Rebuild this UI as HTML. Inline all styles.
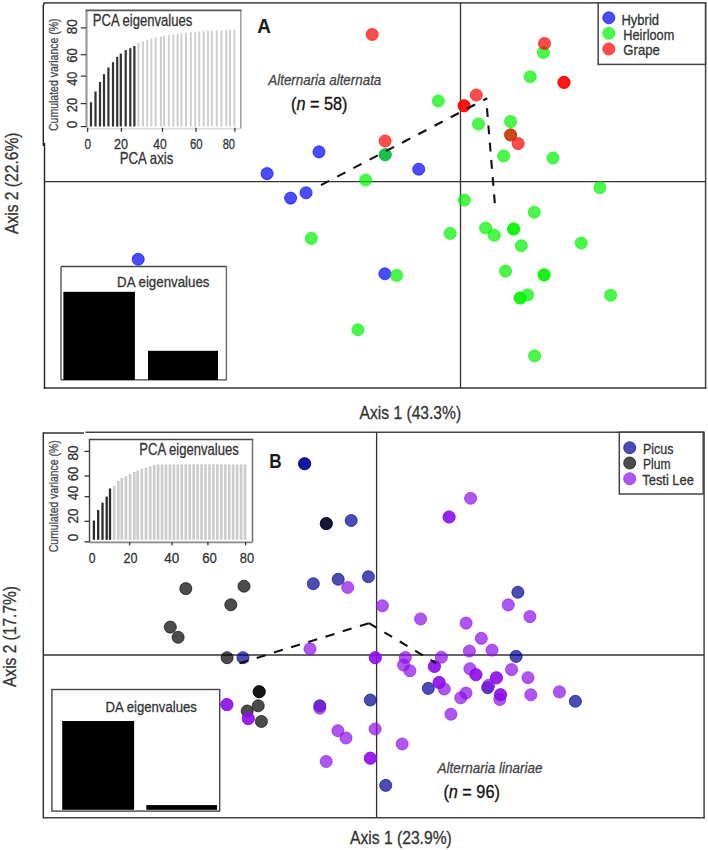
<!DOCTYPE html>
<html><head><meta charset="utf-8"><style>
html,body{margin:0;padding:0;background:#fff;overflow:hidden;}
svg{display:block;font-family:"Liberation Sans", sans-serif;}
</style></head><body>
<svg width="708" height="850" viewBox="0 0 708 850">
<rect width="708" height="850" fill="#fff"/>
<line x1="43.5" y1="2.8" x2="706.3" y2="2.8" stroke="#5a5a5a" stroke-width="1.7" />
<line x1="705.6" y1="2.8" x2="705.6" y2="388.8" stroke="#444" stroke-width="1.5" />
<line x1="43.7" y1="388.1" x2="706.3" y2="388.1" stroke="#333" stroke-width="1.5" />
<line x1="43.3" y1="5" x2="43.3" y2="146" stroke="#222" stroke-width="1.4" />
<line x1="44.5" y1="143" x2="44.5" y2="388.8" stroke="#222" stroke-width="1.4" />
<line x1="43.3" y1="6" x2="44.3" y2="2.8" stroke="#222" stroke-width="1.4" />
<line x1="460.5" y1="2.9" x2="460.5" y2="388" stroke="#333" stroke-width="1.3" />
<line x1="44.3" y1="181.6" x2="705.6" y2="181.6" stroke="#333" stroke-width="1.3" />
<circle cx="138.2" cy="259.3" r="6.05" fill="#0000ff" fill-opacity="0.7" stroke="#0000ff" stroke-opacity="0.7" stroke-width="0.9"/>
<circle cx="267.1" cy="173.6" r="6.05" fill="#0000ff" fill-opacity="0.7" stroke="#0000ff" stroke-opacity="0.7" stroke-width="0.9"/>
<circle cx="319" cy="151.9" r="6.05" fill="#0000ff" fill-opacity="0.7" stroke="#0000ff" stroke-opacity="0.7" stroke-width="0.9"/>
<circle cx="418.7" cy="169.2" r="6.05" fill="#0000ff" fill-opacity="0.7" stroke="#0000ff" stroke-opacity="0.7" stroke-width="0.9"/>
<circle cx="290.6" cy="198.1" r="6.05" fill="#0000ff" fill-opacity="0.7" stroke="#0000ff" stroke-opacity="0.7" stroke-width="0.9"/>
<circle cx="306.1" cy="192.8" r="6.05" fill="#0000ff" fill-opacity="0.7" stroke="#0000ff" stroke-opacity="0.7" stroke-width="0.9"/>
<circle cx="384.9" cy="273.8" r="6.05" fill="#0000ff" fill-opacity="0.7" stroke="#0000ff" stroke-opacity="0.7" stroke-width="0.9"/>
<circle cx="385.2" cy="154.7" r="6.05" fill="#0000ff" fill-opacity="0.7" stroke="#0000ff" stroke-opacity="0.7" stroke-width="0.9"/>
<circle cx="438.3" cy="101" r="6.05" fill="#00f400" fill-opacity="0.7" stroke="#00f400" stroke-opacity="0.7" stroke-width="0.9"/>
<circle cx="530.2" cy="76.8" r="6.05" fill="#00f400" fill-opacity="0.7" stroke="#00f400" stroke-opacity="0.7" stroke-width="0.9"/>
<circle cx="543.4" cy="52.5" r="6.05" fill="#00f400" fill-opacity="0.7" stroke="#00f400" stroke-opacity="0.7" stroke-width="0.9"/>
<circle cx="510.6" cy="121.6" r="6.05" fill="#00f400" fill-opacity="0.7" stroke="#00f400" stroke-opacity="0.7" stroke-width="0.9"/>
<circle cx="478.5" cy="124" r="6.05" fill="#00f400" fill-opacity="0.7" stroke="#00f400" stroke-opacity="0.7" stroke-width="0.9"/>
<circle cx="503.6" cy="156" r="6.05" fill="#00f400" fill-opacity="0.7" stroke="#00f400" stroke-opacity="0.7" stroke-width="0.9"/>
<circle cx="553" cy="158" r="6.05" fill="#00f400" fill-opacity="0.7" stroke="#00f400" stroke-opacity="0.7" stroke-width="0.9"/>
<circle cx="599.9" cy="187.6" r="6.05" fill="#00f400" fill-opacity="0.7" stroke="#00f400" stroke-opacity="0.7" stroke-width="0.9"/>
<circle cx="464.4" cy="200.1" r="6.05" fill="#00f400" fill-opacity="0.7" stroke="#00f400" stroke-opacity="0.7" stroke-width="0.9"/>
<circle cx="365.7" cy="180" r="6.05" fill="#00f400" fill-opacity="0.7" stroke="#00f400" stroke-opacity="0.7" stroke-width="0.9"/>
<circle cx="311.3" cy="238.4" r="6.05" fill="#00f400" fill-opacity="0.7" stroke="#00f400" stroke-opacity="0.7" stroke-width="0.9"/>
<circle cx="396.7" cy="275.4" r="6.05" fill="#00f400" fill-opacity="0.7" stroke="#00f400" stroke-opacity="0.7" stroke-width="0.9"/>
<circle cx="357.9" cy="329.8" r="6.05" fill="#00f400" fill-opacity="0.7" stroke="#00f400" stroke-opacity="0.7" stroke-width="0.9"/>
<circle cx="450.2" cy="233.4" r="6.05" fill="#00f400" fill-opacity="0.7" stroke="#00f400" stroke-opacity="0.7" stroke-width="0.9"/>
<circle cx="534.3" cy="212.2" r="6.05" fill="#00f400" fill-opacity="0.7" stroke="#00f400" stroke-opacity="0.7" stroke-width="0.9"/>
<circle cx="485.6" cy="228" r="6.05" fill="#00f400" fill-opacity="0.7" stroke="#00f400" stroke-opacity="0.7" stroke-width="0.9"/>
<circle cx="494.3" cy="235.3" r="6.05" fill="#00f400" fill-opacity="0.7" stroke="#00f400" stroke-opacity="0.7" stroke-width="0.9"/>
<circle cx="513.6" cy="229" r="6.05" fill="#00f400" fill-opacity="0.7" stroke="#00f400" stroke-opacity="0.7" stroke-width="0.9"/>
<circle cx="513.6" cy="229" r="6.05" fill="#00f400" fill-opacity="0.7" stroke="#00f400" stroke-opacity="0.7" stroke-width="0.9"/>
<circle cx="521.3" cy="245.8" r="6.05" fill="#00f400" fill-opacity="0.7" stroke="#00f400" stroke-opacity="0.7" stroke-width="0.9"/>
<circle cx="581.2" cy="243" r="6.05" fill="#00f400" fill-opacity="0.7" stroke="#00f400" stroke-opacity="0.7" stroke-width="0.9"/>
<circle cx="505.5" cy="271.1" r="6.05" fill="#00f400" fill-opacity="0.7" stroke="#00f400" stroke-opacity="0.7" stroke-width="0.9"/>
<circle cx="544.1" cy="274.9" r="6.05" fill="#00f400" fill-opacity="0.7" stroke="#00f400" stroke-opacity="0.7" stroke-width="0.9"/>
<circle cx="544.1" cy="274.9" r="6.05" fill="#00f400" fill-opacity="0.7" stroke="#00f400" stroke-opacity="0.7" stroke-width="0.9"/>
<circle cx="527.6" cy="294.9" r="6.05" fill="#00f400" fill-opacity="0.7" stroke="#00f400" stroke-opacity="0.7" stroke-width="0.9"/>
<circle cx="520.2" cy="298" r="6.05" fill="#00f400" fill-opacity="0.7" stroke="#00f400" stroke-opacity="0.7" stroke-width="0.9"/>
<circle cx="520.2" cy="298" r="6.05" fill="#00f400" fill-opacity="0.7" stroke="#00f400" stroke-opacity="0.7" stroke-width="0.9"/>
<circle cx="610.6" cy="295.2" r="6.05" fill="#00f400" fill-opacity="0.7" stroke="#00f400" stroke-opacity="0.7" stroke-width="0.9"/>
<circle cx="534.6" cy="355.9" r="6.05" fill="#00f400" fill-opacity="0.7" stroke="#00f400" stroke-opacity="0.7" stroke-width="0.9"/>
<circle cx="385.2" cy="154.7" r="6.05" fill="#00f400" fill-opacity="0.7" stroke="#00f400" stroke-opacity="0.7" stroke-width="0.9"/>
<circle cx="510.6" cy="134.9" r="6.05" fill="#00f400" fill-opacity="0.7" stroke="#00f400" stroke-opacity="0.7" stroke-width="0.9"/>
<circle cx="372.2" cy="34.5" r="6.05" fill="#ff0000" fill-opacity="0.7" stroke="#ff0000" stroke-opacity="0.7" stroke-width="0.9"/>
<circle cx="544.5" cy="43.5" r="6.05" fill="#ff0000" fill-opacity="0.7" stroke="#ff0000" stroke-opacity="0.7" stroke-width="0.9"/>
<circle cx="564" cy="82.4" r="6.05" fill="#ff0000" fill-opacity="0.7" stroke="#ff0000" stroke-opacity="0.7" stroke-width="0.9"/>
<circle cx="564" cy="82.4" r="6.05" fill="#ff0000" fill-opacity="0.7" stroke="#ff0000" stroke-opacity="0.7" stroke-width="0.9"/>
<circle cx="476.3" cy="95" r="6.05" fill="#ff0000" fill-opacity="0.7" stroke="#ff0000" stroke-opacity="0.7" stroke-width="0.9"/>
<circle cx="464.1" cy="105.8" r="6.05" fill="#ff0000" fill-opacity="0.7" stroke="#ff0000" stroke-opacity="0.7" stroke-width="0.9"/>
<circle cx="464.1" cy="105.8" r="6.05" fill="#ff0000" fill-opacity="0.7" stroke="#ff0000" stroke-opacity="0.7" stroke-width="0.9"/>
<circle cx="385.1" cy="141" r="6.05" fill="#ff0000" fill-opacity="0.7" stroke="#ff0000" stroke-opacity="0.7" stroke-width="0.9"/>
<circle cx="510.6" cy="134.9" r="6.05" fill="#ff0000" fill-opacity="0.7" stroke="#ff0000" stroke-opacity="0.7" stroke-width="0.9"/>
<circle cx="518.2" cy="143.6" r="6.05" fill="#ff0000" fill-opacity="0.7" stroke="#ff0000" stroke-opacity="0.7" stroke-width="0.9"/>
<line x1="321" y1="185.1" x2="487.2" y2="98.2" stroke="#111" stroke-width="2.1" stroke-dasharray="9.2 9.1"/>
<line x1="494.8" y1="203.2" x2="486.2" y2="99" stroke="#111" stroke-width="2.1" stroke-dasharray="8.8 8.5"/>
<rect x="598.2" y="2.9" width="107.3" height="61.5" fill="#fff" stroke="#444" stroke-width="1.5"/>
<circle cx="608.8" cy="17.8" r="6.05" fill="#0000ff" fill-opacity="0.7" stroke="#0000ff" stroke-opacity="0.7" stroke-width="0.9"/>
<circle cx="608.8" cy="33.3" r="6.05" fill="#00f400" fill-opacity="0.7" stroke="#00f400" stroke-opacity="0.7" stroke-width="0.9"/>
<circle cx="608.8" cy="49" r="6.05" fill="#ff0000" fill-opacity="0.7" stroke="#ff0000" stroke-opacity="0.7" stroke-width="0.9"/>
<text x="621.5" y="24.5" font-size="14.8" fill="#333" text-anchor="start" stroke="#333" stroke-width="0.3" textLength="37.5" lengthAdjust="spacingAndGlyphs" >Hybrid</text>
<text x="623.3" y="39.5" font-size="14.8" fill="#333" text-anchor="start" stroke="#333" stroke-width="0.3" textLength="51" lengthAdjust="spacingAndGlyphs" >Heirloom</text>
<text x="623.3" y="55.2" font-size="14.8" fill="#333" text-anchor="start" stroke="#333" stroke-width="0.3" textLength="36.5" lengthAdjust="spacingAndGlyphs" >Grape</text>
<text x="257.2" y="33.4" font-size="20" fill="#1a1a1a" text-anchor="start" textLength="13.6" lengthAdjust="spacingAndGlyphs" font-weight="bold" >A</text>
<text x="268.3" y="84.7" font-size="15" fill="#444" text-anchor="start" stroke="#444" stroke-width="0.3" textLength="113" lengthAdjust="spacingAndGlyphs" font-style="italic" >Alternaria alternata</text>
<text x="291" y="109.6" font-size="17.5" fill="#111" text-anchor="start" stroke="#111" stroke-width="0.3" textLength="56.5" lengthAdjust="spacingAndGlyphs" >(<tspan font-style="italic">n</tspan> = 58)</text>
<rect x="86.4" y="10.3" width="154.3" height="118" fill="#fff" stroke="none" stroke-width="1.3"/>
<line x1="86.5" y1="10.3" x2="86.5" y2="127.5" stroke="#9a9a9a" stroke-width="2.2" />
<line x1="240.8" y1="10.3" x2="240.8" y2="128.5" stroke="#a0a0a0" stroke-width="1.6" />
<line x1="85.6" y1="10.4" x2="241.4" y2="10.4" stroke="#555" stroke-width="1.6" />
<line x1="86.4" y1="128.9" x2="240.7" y2="128.9" stroke="#c8c8c8" stroke-width="1.0" />
<rect x="89.9" y="102.3" width="2.2" height="24.200000000000003" fill="#333" stroke="none" stroke-width="1.3"/>
<rect x="94.4" y="91.5" width="2.2" height="35.0" fill="#333" stroke="none" stroke-width="1.3"/>
<rect x="98.9" y="82" width="2.2" height="44.5" fill="#333" stroke="none" stroke-width="1.3"/>
<rect x="102.9" y="74.1" width="2.2" height="52.400000000000006" fill="#333" stroke="none" stroke-width="1.3"/>
<rect x="107.30000000000001" y="67.4" width="2.2" height="59.099999999999994" fill="#333" stroke="none" stroke-width="1.3"/>
<rect x="111.9" y="62.2" width="2.2" height="64.3" fill="#333" stroke="none" stroke-width="1.3"/>
<rect x="116.10000000000001" y="56.8" width="2.2" height="69.7" fill="#333" stroke="none" stroke-width="1.3"/>
<rect x="119.7" y="53.6" width="2.2" height="72.9" fill="#333" stroke="none" stroke-width="1.3"/>
<rect x="124.60000000000001" y="50.1" width="2.2" height="76.4" fill="#333" stroke="none" stroke-width="1.3"/>
<rect x="129.20000000000002" y="48.2" width="2.2" height="78.3" fill="#333" stroke="none" stroke-width="1.3"/>
<rect x="133.3" y="46" width="2.2" height="80.5" fill="#333" stroke="none" stroke-width="1.3"/>
<rect x="137.4" y="42.7" width="2.0" height="83.8" fill="#cfcfcf" stroke="none" stroke-width="1.3"/>
<rect x="141.9" y="41.20671829876405" width="2.0" height="85.29328170123594" fill="#cfcfcf" stroke="none" stroke-width="1.3"/>
<rect x="146.2" y="39.870471121418674" width="2.0" height="86.62952887858133" fill="#cfcfcf" stroke="none" stroke-width="1.3"/>
<rect x="150.3" y="38.67474461014781" width="2.0" height="87.82525538985219" fill="#cfcfcf" stroke="none" stroke-width="1.3"/>
<rect x="154.7" y="37.604761515705356" width="2.0" height="88.89523848429465" fill="#cfcfcf" stroke="none" stroke-width="1.3"/>
<rect x="159.9" y="36.64729857447155" width="2.0" height="89.85270142552845" fill="#cfcfcf" stroke="none" stroke-width="1.3"/>
<rect x="163.0" y="35.79052309026281" width="2.0" height="90.70947690973719" fill="#cfcfcf" stroke="none" stroke-width="1.3"/>
<rect x="167.8" y="35.02384670131016" width="2.0" height="91.47615329868984" fill="#cfcfcf" stroke="none" stroke-width="1.3"/>
<rect x="172.3" y="34.337794525202064" width="2.0" height="92.16220547479793" fill="#cfcfcf" stroke="none" stroke-width="1.3"/>
<rect x="176.6" y="33.72388806463448" width="2.0" height="92.77611193536552" fill="#cfcfcf" stroke="none" stroke-width="1.3"/>
<rect x="180.4" y="33.17454042687226" width="2.0" height="93.32545957312774" fill="#cfcfcf" stroke="none" stroke-width="1.3"/>
<rect x="185.0" y="32.682962562003524" width="2.0" height="93.81703743799648" fill="#cfcfcf" stroke="none" stroke-width="1.3"/>
<rect x="189.8" y="32.24307936124332" width="2.0" height="94.25692063875668" fill="#cfcfcf" stroke="none" stroke-width="1.3"/>
<rect x="194.2" y="31.84945457839694" width="2.0" height="94.65054542160306" fill="#cfcfcf" stroke="none" stroke-width="1.3"/>
<rect x="198.2" y="31.497223646633483" width="2.0" height="95.00277635336651" fill="#cfcfcf" stroke="none" stroke-width="1.3"/>
<rect x="202.6" y="31.182033560293377" width="2.0" height="95.31796643970662" fill="#cfcfcf" stroke="none" stroke-width="1.3"/>
<rect x="207.0" y="30.89998907876614" width="2.0" height="95.60001092123386" fill="#cfcfcf" stroke="none" stroke-width="1.3"/>
<rect x="210.8" y="30.64760458760504" width="2.0" height="95.85239541239496" fill="#cfcfcf" stroke="none" stroke-width="1.3"/>
<rect x="215.8" y="30.421761021959902" width="2.0" height="96.0782389780401" fill="#cfcfcf" stroke="none" stroke-width="1.3"/>
<rect x="220.5" y="30.219667319971084" width="2.0" height="96.28033268002892" fill="#cfcfcf" stroke="none" stroke-width="1.3"/>
<rect x="225.3" y="30.03882592975092" width="2.0" height="96.46117407024909" fill="#cfcfcf" stroke="none" stroke-width="1.3"/>
<rect x="229.0" y="29.877001943674554" width="2.0" height="96.62299805632544" fill="#cfcfcf" stroke="none" stroke-width="1.3"/>
<rect x="233.4" y="29.732195478529796" width="2.0" height="96.7678045214702" fill="#cfcfcf" stroke="none" stroke-width="1.3"/>
<line x1="87.6" y1="127.8" x2="87.6" y2="131.8" stroke="#333" stroke-width="1.3" />
<line x1="121.4" y1="127.8" x2="121.4" y2="131.8" stroke="#333" stroke-width="1.3" />
<line x1="162.5" y1="127.8" x2="162.5" y2="131.8" stroke="#333" stroke-width="1.3" />
<line x1="196" y1="127.8" x2="196" y2="131.8" stroke="#333" stroke-width="1.3" />
<line x1="234.9" y1="127.8" x2="234.9" y2="131.8" stroke="#333" stroke-width="1.3" />
<line x1="80.7" y1="27.9" x2="86.4" y2="27.9" stroke="#333" stroke-width="1.2" />
<line x1="80.7" y1="54.7" x2="86.4" y2="54.7" stroke="#333" stroke-width="1.2" />
<line x1="80.7" y1="76.1" x2="86.4" y2="76.1" stroke="#333" stroke-width="1.2" />
<line x1="80.7" y1="103.6" x2="86.4" y2="103.6" stroke="#333" stroke-width="1.2" />
<line x1="80.7" y1="126.6" x2="86.4" y2="126.6" stroke="#333" stroke-width="1.2" />
<text x="87.7" y="149.3" font-size="15.5" fill="#333" text-anchor="middle" stroke="#333" stroke-width="0.3" textLength="6.6" lengthAdjust="spacingAndGlyphs" >0</text>
<text x="120.9" y="149.3" font-size="15.5" fill="#333" text-anchor="middle" stroke="#333" stroke-width="0.3" textLength="14" lengthAdjust="spacingAndGlyphs" >20</text>
<text x="160.1" y="149.3" font-size="15.5" fill="#333" text-anchor="middle" stroke="#333" stroke-width="0.3" textLength="13.5" lengthAdjust="spacingAndGlyphs" >40</text>
<text x="196.3" y="149.3" font-size="15.5" fill="#333" text-anchor="middle" stroke="#333" stroke-width="0.3" textLength="12.6" lengthAdjust="spacingAndGlyphs" >60</text>
<text x="228.8" y="149.3" font-size="15.5" fill="#333" text-anchor="middle" stroke="#333" stroke-width="0.3" textLength="12.3" lengthAdjust="spacingAndGlyphs" >80</text>
<text x="146.5" y="163.6" font-size="17" fill="#333" text-anchor="middle" stroke="#333" stroke-width="0.3" textLength="53.5" lengthAdjust="spacingAndGlyphs" >PCA axis</text>
<text transform="translate(77.2,26.8) rotate(-90)" x="0" y="0" font-size="15.5" fill="#333" text-anchor="middle" stroke="#333" stroke-width="0.3" textLength="15" lengthAdjust="spacingAndGlyphs" >80</text>
<text transform="translate(77.2,55.5) rotate(-90)" x="0" y="0" font-size="15.5" fill="#333" text-anchor="middle" stroke="#333" stroke-width="0.3" textLength="14.5" lengthAdjust="spacingAndGlyphs" >60</text>
<text transform="translate(77.2,78.8) rotate(-90)" x="0" y="0" font-size="15.5" fill="#333" text-anchor="middle" stroke="#333" stroke-width="0.3" textLength="14" lengthAdjust="spacingAndGlyphs" >40</text>
<text transform="translate(77.2,105) rotate(-90)" x="0" y="0" font-size="15.5" fill="#333" text-anchor="middle" stroke="#333" stroke-width="0.3" textLength="14.5" lengthAdjust="spacingAndGlyphs" >20</text>
<text transform="translate(77.2,124.6) rotate(-90)" x="0" y="0" font-size="15.5" fill="#333" text-anchor="middle" stroke="#333" stroke-width="0.3" textLength="7.5" lengthAdjust="spacingAndGlyphs" >0</text>
<text transform="translate(58.4,74.7) rotate(-90)" x="0" y="0" font-size="12.6" fill="#4a4a4a" text-anchor="middle" stroke="#4a4a4a" stroke-width="0.3" textLength="112.5" lengthAdjust="spacingAndGlyphs" >Cumulated variance (%)</text>
<text x="92.8" y="25.5" font-size="16.2" fill="#333" text-anchor="start" stroke="#333" stroke-width="0.3" textLength="99.5" lengthAdjust="spacingAndGlyphs" >PCA eigenvalues</text>
<rect x="61" y="266.4" width="165.4" height="113.5" fill="#fff" stroke="none" stroke-width="1.3"/>
<line x1="61" y1="266.4" x2="226.4" y2="266.4" stroke="#444" stroke-width="1.5" />
<line x1="61" y1="266.4" x2="61" y2="380" stroke="#555" stroke-width="1.4" />
<line x1="226.4" y1="266.4" x2="226.4" y2="380" stroke="#666" stroke-width="1.4" />
<line x1="61" y1="379.9" x2="226.4" y2="379.9" stroke="#444" stroke-width="1.4" />
<rect x="63.4" y="291.8" width="71.5" height="88.2" fill="#000" stroke="none" stroke-width="1.3"/>
<rect x="148" y="350.8" width="70" height="29.2" fill="#000" stroke="none" stroke-width="1.3"/>
<text x="117.1" y="287.3" font-size="15" fill="#333" text-anchor="start" stroke="#333" stroke-width="0.3" textLength="92.4" lengthAdjust="spacingAndGlyphs" >DA eigenvalues</text>
<text x="359.6" y="419.3" font-size="18.8" fill="#333" text-anchor="start" stroke="#333" stroke-width="0.3" textLength="101.5" lengthAdjust="spacingAndGlyphs" >Axis 1 (43.3%)</text>
<text transform="translate(18.4,234) rotate(-90)" x="0" y="0" font-size="18.8" fill="#333" text-anchor="start" stroke="#333" stroke-width="0.3" textLength="101.5" lengthAdjust="spacingAndGlyphs" >Axis 2 (22.6%)</text>
<line x1="43.3" y1="433" x2="84" y2="433" stroke="#333" stroke-width="1.5" />
<line x1="85.5" y1="432.3" x2="704.8" y2="432.3" stroke="#444" stroke-width="1.6" />
<line x1="43.3" y1="432.3" x2="43.3" y2="818.5" stroke="#333" stroke-width="1.5" />
<line x1="704.1" y1="432.3" x2="704.1" y2="818.5" stroke="#444" stroke-width="1.5" />
<line x1="43.3" y1="817.8" x2="704.8" y2="817.8" stroke="#444" stroke-width="1.6" />
<line x1="376.6" y1="432.3" x2="376.6" y2="817.8" stroke="#333" stroke-width="1.3" />
<line x1="43.3" y1="655" x2="704.1" y2="655" stroke="#333" stroke-width="1.3" />
<circle cx="304.6" cy="463.7" r="6.05" fill="#000096" fill-opacity="0.7" stroke="#000096" stroke-opacity="0.7" stroke-width="0.9"/>
<circle cx="304.6" cy="463.7" r="6.05" fill="#000096" fill-opacity="0.7" stroke="#000096" stroke-opacity="0.7" stroke-width="0.9"/>
<circle cx="351.2" cy="520.5" r="6.05" fill="#000096" fill-opacity="0.7" stroke="#000096" stroke-opacity="0.7" stroke-width="0.9"/>
<circle cx="313.3" cy="583.7" r="6.05" fill="#000096" fill-opacity="0.7" stroke="#000096" stroke-opacity="0.7" stroke-width="0.9"/>
<circle cx="338.2" cy="579.3" r="6.05" fill="#000096" fill-opacity="0.7" stroke="#000096" stroke-opacity="0.7" stroke-width="0.9"/>
<circle cx="368.4" cy="576.7" r="6.05" fill="#000096" fill-opacity="0.7" stroke="#000096" stroke-opacity="0.7" stroke-width="0.9"/>
<circle cx="243" cy="657.7" r="6.05" fill="#000096" fill-opacity="0.7" stroke="#000096" stroke-opacity="0.7" stroke-width="0.9"/>
<circle cx="370.3" cy="700" r="6.05" fill="#000096" fill-opacity="0.7" stroke="#000096" stroke-opacity="0.7" stroke-width="0.9"/>
<circle cx="319.8" cy="705.8" r="6.05" fill="#000096" fill-opacity="0.7" stroke="#000096" stroke-opacity="0.7" stroke-width="0.9"/>
<circle cx="385.7" cy="785.4" r="6.05" fill="#000096" fill-opacity="0.7" stroke="#000096" stroke-opacity="0.7" stroke-width="0.9"/>
<circle cx="428.3" cy="688.4" r="6.05" fill="#000096" fill-opacity="0.7" stroke="#000096" stroke-opacity="0.7" stroke-width="0.9"/>
<circle cx="487.7" cy="687.6" r="6.05" fill="#000096" fill-opacity="0.7" stroke="#000096" stroke-opacity="0.7" stroke-width="0.9"/>
<circle cx="517.9" cy="592.2" r="6.05" fill="#000096" fill-opacity="0.7" stroke="#000096" stroke-opacity="0.7" stroke-width="0.9"/>
<circle cx="516.1" cy="656.4" r="6.05" fill="#000096" fill-opacity="0.7" stroke="#000096" stroke-opacity="0.7" stroke-width="0.9"/>
<circle cx="575.4" cy="701.3" r="6.05" fill="#000096" fill-opacity="0.7" stroke="#000096" stroke-opacity="0.7" stroke-width="0.9"/>
<circle cx="326.3" cy="523.6" r="6.05" fill="#000096" fill-opacity="0.7" stroke="#000096" stroke-opacity="0.7" stroke-width="0.9"/>
<circle cx="185.8" cy="588.6" r="6.05" fill="#000000" fill-opacity="0.7" stroke="#000000" stroke-opacity="0.7" stroke-width="0.9"/>
<circle cx="244" cy="586.2" r="6.05" fill="#000000" fill-opacity="0.7" stroke="#000000" stroke-opacity="0.7" stroke-width="0.9"/>
<circle cx="230.8" cy="604.8" r="6.05" fill="#000000" fill-opacity="0.7" stroke="#000000" stroke-opacity="0.7" stroke-width="0.9"/>
<circle cx="170.3" cy="627.1" r="6.05" fill="#000000" fill-opacity="0.7" stroke="#000000" stroke-opacity="0.7" stroke-width="0.9"/>
<circle cx="178.1" cy="637.3" r="6.05" fill="#000000" fill-opacity="0.7" stroke="#000000" stroke-opacity="0.7" stroke-width="0.9"/>
<circle cx="227.1" cy="657.7" r="6.05" fill="#000000" fill-opacity="0.7" stroke="#000000" stroke-opacity="0.7" stroke-width="0.9"/>
<circle cx="258.2" cy="705.8" r="6.05" fill="#000000" fill-opacity="0.7" stroke="#000000" stroke-opacity="0.7" stroke-width="0.9"/>
<circle cx="247.2" cy="711" r="6.05" fill="#000000" fill-opacity="0.7" stroke="#000000" stroke-opacity="0.7" stroke-width="0.9"/>
<circle cx="261.4" cy="721.5" r="6.05" fill="#000000" fill-opacity="0.7" stroke="#000000" stroke-opacity="0.7" stroke-width="0.9"/>
<circle cx="326.3" cy="523.6" r="6.05" fill="#000000" fill-opacity="0.7" stroke="#000000" stroke-opacity="0.7" stroke-width="0.9"/>
<circle cx="259.2" cy="691.7" r="6.05" fill="#000000" fill-opacity="0.7" stroke="#000000" stroke-opacity="0.7" stroke-width="0.9"/>
<circle cx="259.2" cy="691.7" r="6.05" fill="#000000" fill-opacity="0.7" stroke="#000000" stroke-opacity="0.7" stroke-width="0.9"/>
<circle cx="470.6" cy="498.3" r="6.05" fill="#8e0eea" fill-opacity="0.7" stroke="#8e0eea" stroke-opacity="0.7" stroke-width="0.9"/>
<circle cx="449.1" cy="517" r="6.05" fill="#8e0eea" fill-opacity="0.7" stroke="#8e0eea" stroke-opacity="0.7" stroke-width="0.9"/>
<circle cx="449.1" cy="517" r="6.05" fill="#8e0eea" fill-opacity="0.7" stroke="#8e0eea" stroke-opacity="0.7" stroke-width="0.9"/>
<circle cx="347.7" cy="587.5" r="6.05" fill="#8e0eea" fill-opacity="0.7" stroke="#8e0eea" stroke-opacity="0.7" stroke-width="0.9"/>
<circle cx="382.4" cy="605.8" r="6.05" fill="#8e0eea" fill-opacity="0.7" stroke="#8e0eea" stroke-opacity="0.7" stroke-width="0.9"/>
<circle cx="310" cy="648.9" r="6.05" fill="#8e0eea" fill-opacity="0.7" stroke="#8e0eea" stroke-opacity="0.7" stroke-width="0.9"/>
<circle cx="375.3" cy="657.7" r="6.05" fill="#8e0eea" fill-opacity="0.7" stroke="#8e0eea" stroke-opacity="0.7" stroke-width="0.9"/>
<circle cx="375.3" cy="657.7" r="6.05" fill="#8e0eea" fill-opacity="0.7" stroke="#8e0eea" stroke-opacity="0.7" stroke-width="0.9"/>
<circle cx="226.9" cy="704.6" r="6.05" fill="#8e0eea" fill-opacity="0.7" stroke="#8e0eea" stroke-opacity="0.7" stroke-width="0.9"/>
<circle cx="226.9" cy="704.6" r="6.05" fill="#8e0eea" fill-opacity="0.7" stroke="#8e0eea" stroke-opacity="0.7" stroke-width="0.9"/>
<circle cx="248.3" cy="718.6" r="6.05" fill="#8e0eea" fill-opacity="0.7" stroke="#8e0eea" stroke-opacity="0.7" stroke-width="0.9"/>
<circle cx="248.3" cy="718.6" r="6.05" fill="#8e0eea" fill-opacity="0.7" stroke="#8e0eea" stroke-opacity="0.7" stroke-width="0.9"/>
<circle cx="420.6" cy="619" r="6.05" fill="#8e0eea" fill-opacity="0.7" stroke="#8e0eea" stroke-opacity="0.7" stroke-width="0.9"/>
<circle cx="466.1" cy="623.1" r="6.05" fill="#8e0eea" fill-opacity="0.7" stroke="#8e0eea" stroke-opacity="0.7" stroke-width="0.9"/>
<circle cx="508.3" cy="604.9" r="6.05" fill="#8e0eea" fill-opacity="0.7" stroke="#8e0eea" stroke-opacity="0.7" stroke-width="0.9"/>
<circle cx="529.9" cy="616.6" r="6.05" fill="#8e0eea" fill-opacity="0.7" stroke="#8e0eea" stroke-opacity="0.7" stroke-width="0.9"/>
<circle cx="481.3" cy="638.4" r="6.05" fill="#8e0eea" fill-opacity="0.7" stroke="#8e0eea" stroke-opacity="0.7" stroke-width="0.9"/>
<circle cx="469.4" cy="651" r="6.05" fill="#8e0eea" fill-opacity="0.7" stroke="#8e0eea" stroke-opacity="0.7" stroke-width="0.9"/>
<circle cx="492" cy="650.1" r="6.05" fill="#8e0eea" fill-opacity="0.7" stroke="#8e0eea" stroke-opacity="0.7" stroke-width="0.9"/>
<circle cx="405.3" cy="657.5" r="6.05" fill="#8e0eea" fill-opacity="0.7" stroke="#8e0eea" stroke-opacity="0.7" stroke-width="0.9"/>
<circle cx="403.6" cy="665" r="6.05" fill="#8e0eea" fill-opacity="0.7" stroke="#8e0eea" stroke-opacity="0.7" stroke-width="0.9"/>
<circle cx="409.9" cy="670.7" r="6.05" fill="#8e0eea" fill-opacity="0.7" stroke="#8e0eea" stroke-opacity="0.7" stroke-width="0.9"/>
<circle cx="441.4" cy="657.2" r="6.05" fill="#8e0eea" fill-opacity="0.7" stroke="#8e0eea" stroke-opacity="0.7" stroke-width="0.9"/>
<circle cx="434.4" cy="666.5" r="6.05" fill="#8e0eea" fill-opacity="0.7" stroke="#8e0eea" stroke-opacity="0.7" stroke-width="0.9"/>
<circle cx="434.4" cy="666.5" r="6.05" fill="#8e0eea" fill-opacity="0.7" stroke="#8e0eea" stroke-opacity="0.7" stroke-width="0.9"/>
<circle cx="469.9" cy="668.7" r="6.05" fill="#8e0eea" fill-opacity="0.7" stroke="#8e0eea" stroke-opacity="0.7" stroke-width="0.9"/>
<circle cx="475.9" cy="674.7" r="6.05" fill="#8e0eea" fill-opacity="0.7" stroke="#8e0eea" stroke-opacity="0.7" stroke-width="0.9"/>
<circle cx="475.9" cy="674.7" r="6.05" fill="#8e0eea" fill-opacity="0.7" stroke="#8e0eea" stroke-opacity="0.7" stroke-width="0.9"/>
<circle cx="511.6" cy="669.6" r="6.05" fill="#8e0eea" fill-opacity="0.7" stroke="#8e0eea" stroke-opacity="0.7" stroke-width="0.9"/>
<circle cx="528" cy="677.7" r="6.05" fill="#8e0eea" fill-opacity="0.7" stroke="#8e0eea" stroke-opacity="0.7" stroke-width="0.9"/>
<circle cx="496.4" cy="677.8" r="6.05" fill="#8e0eea" fill-opacity="0.7" stroke="#8e0eea" stroke-opacity="0.7" stroke-width="0.9"/>
<circle cx="496.4" cy="677.8" r="6.05" fill="#8e0eea" fill-opacity="0.7" stroke="#8e0eea" stroke-opacity="0.7" stroke-width="0.9"/>
<circle cx="439.1" cy="682.5" r="6.05" fill="#8e0eea" fill-opacity="0.7" stroke="#8e0eea" stroke-opacity="0.7" stroke-width="0.9"/>
<circle cx="439.1" cy="682.5" r="6.05" fill="#8e0eea" fill-opacity="0.7" stroke="#8e0eea" stroke-opacity="0.7" stroke-width="0.9"/>
<circle cx="444.3" cy="689" r="6.05" fill="#8e0eea" fill-opacity="0.7" stroke="#8e0eea" stroke-opacity="0.7" stroke-width="0.9"/>
<circle cx="488.7" cy="685.3" r="6.05" fill="#8e0eea" fill-opacity="0.7" stroke="#8e0eea" stroke-opacity="0.7" stroke-width="0.9"/>
<circle cx="466" cy="693.1" r="6.05" fill="#8e0eea" fill-opacity="0.7" stroke="#8e0eea" stroke-opacity="0.7" stroke-width="0.9"/>
<circle cx="460.7" cy="697.8" r="6.05" fill="#8e0eea" fill-opacity="0.7" stroke="#8e0eea" stroke-opacity="0.7" stroke-width="0.9"/>
<circle cx="500.5" cy="694.7" r="6.05" fill="#8e0eea" fill-opacity="0.7" stroke="#8e0eea" stroke-opacity="0.7" stroke-width="0.9"/>
<circle cx="500.5" cy="694.7" r="6.05" fill="#8e0eea" fill-opacity="0.7" stroke="#8e0eea" stroke-opacity="0.7" stroke-width="0.9"/>
<circle cx="499.8" cy="699.5" r="6.05" fill="#8e0eea" fill-opacity="0.7" stroke="#8e0eea" stroke-opacity="0.7" stroke-width="0.9"/>
<circle cx="530.8" cy="694.8" r="6.05" fill="#8e0eea" fill-opacity="0.7" stroke="#8e0eea" stroke-opacity="0.7" stroke-width="0.9"/>
<circle cx="559.4" cy="691.9" r="6.05" fill="#8e0eea" fill-opacity="0.7" stroke="#8e0eea" stroke-opacity="0.7" stroke-width="0.9"/>
<circle cx="450.9" cy="714.2" r="6.05" fill="#8e0eea" fill-opacity="0.7" stroke="#8e0eea" stroke-opacity="0.7" stroke-width="0.9"/>
<circle cx="375.1" cy="729" r="6.05" fill="#8e0eea" fill-opacity="0.7" stroke="#8e0eea" stroke-opacity="0.7" stroke-width="0.9"/>
<circle cx="402.2" cy="744" r="6.05" fill="#8e0eea" fill-opacity="0.7" stroke="#8e0eea" stroke-opacity="0.7" stroke-width="0.9"/>
<circle cx="337.9" cy="730.7" r="6.05" fill="#8e0eea" fill-opacity="0.7" stroke="#8e0eea" stroke-opacity="0.7" stroke-width="0.9"/>
<circle cx="346" cy="738" r="6.05" fill="#8e0eea" fill-opacity="0.7" stroke="#8e0eea" stroke-opacity="0.7" stroke-width="0.9"/>
<circle cx="370.3" cy="758.2" r="6.05" fill="#8e0eea" fill-opacity="0.7" stroke="#8e0eea" stroke-opacity="0.7" stroke-width="0.9"/>
<circle cx="370.3" cy="758.2" r="6.05" fill="#8e0eea" fill-opacity="0.7" stroke="#8e0eea" stroke-opacity="0.7" stroke-width="0.9"/>
<circle cx="326.2" cy="761.5" r="6.05" fill="#8e0eea" fill-opacity="0.7" stroke="#8e0eea" stroke-opacity="0.7" stroke-width="0.9"/>
<circle cx="319.8" cy="708.1" r="6.05" fill="#8e0eea" fill-opacity="0.7" stroke="#8e0eea" stroke-opacity="0.7" stroke-width="0.9"/>
<line x1="239.5" y1="663.2" x2="369" y2="623.2" stroke="#111" stroke-width="2.1" stroke-dasharray="9.3 8.7"/>
<line x1="369" y1="623.2" x2="436.3" y2="663.3" stroke="#111" stroke-width="2.1" stroke-dasharray="9 8.9"/>
<rect x="619.3" y="432.2" width="83.9" height="61.8" fill="#fff" stroke="#444" stroke-width="1.5"/>
<circle cx="629.7" cy="447.7" r="6.05" fill="#000096" fill-opacity="0.7" stroke="#000096" stroke-opacity="0.7" stroke-width="0.9"/>
<circle cx="629.7" cy="463" r="6.05" fill="#000000" fill-opacity="0.7" stroke="#000000" stroke-opacity="0.7" stroke-width="0.9"/>
<circle cx="629.7" cy="478.7" r="6.05" fill="#8e0eea" fill-opacity="0.7" stroke="#8e0eea" stroke-opacity="0.7" stroke-width="0.9"/>
<text x="643" y="454" font-size="15" fill="#333" text-anchor="start" stroke="#333" stroke-width="0.3" textLength="30.5" lengthAdjust="spacingAndGlyphs" >Picus</text>
<text x="643" y="469.2" font-size="15" fill="#333" text-anchor="start" stroke="#333" stroke-width="0.3" textLength="27.5" lengthAdjust="spacingAndGlyphs" >Plum</text>
<text x="642.3" y="485.1" font-size="15" fill="#333" text-anchor="start" stroke="#333" stroke-width="0.3" textLength="51.5" lengthAdjust="spacingAndGlyphs" >Testi Lee</text>
<text x="269.2" y="467.7" font-size="20" fill="#1a1a1a" text-anchor="start" textLength="12.4" lengthAdjust="spacingAndGlyphs" font-weight="bold" >B</text>
<text x="437.4" y="772.9" font-size="15" fill="#444" text-anchor="start" stroke="#444" stroke-width="0.3" textLength="105" lengthAdjust="spacingAndGlyphs" font-style="italic" >Alternaria linariae</text>
<text x="443.4" y="797.8" font-size="17.5" fill="#111" text-anchor="start" stroke="#111" stroke-width="0.3" textLength="56.5" lengthAdjust="spacingAndGlyphs" >(<tspan font-style="italic">n</tspan> = 96)</text>
<rect x="89.6" y="439.8" width="162.3" height="102.1" fill="#fff" stroke="none" stroke-width="1.3"/>
<rect x="112.85000000000001" y="485.7" width="2.7" height="54.099999999999966" fill="#cdcdcd" stroke="none" stroke-width="1.3"/>
<rect x="116.95" y="480.9" width="2.7" height="58.89999999999998" fill="#cdcdcd" stroke="none" stroke-width="1.3"/>
<rect x="120.45" y="477.8" width="2.7" height="61.99999999999994" fill="#cdcdcd" stroke="none" stroke-width="1.3"/>
<rect x="124.55000000000001" y="476.2" width="2.7" height="63.599999999999966" fill="#cdcdcd" stroke="none" stroke-width="1.3"/>
<rect x="128.75" y="474.0" width="2.7" height="65.79999999999995" fill="#cdcdcd" stroke="none" stroke-width="1.3"/>
<rect x="132.95000000000002" y="471.9" width="2.7" height="67.89999999999998" fill="#cdcdcd" stroke="none" stroke-width="1.3"/>
<rect x="136.35" y="470.3" width="2.7" height="69.49999999999994" fill="#cdcdcd" stroke="none" stroke-width="1.3"/>
<rect x="140.45000000000002" y="468.8" width="2.7" height="70.99999999999994" fill="#cdcdcd" stroke="none" stroke-width="1.3"/>
<rect x="144.65" y="467.7" width="2.7" height="72.09999999999997" fill="#cdcdcd" stroke="none" stroke-width="1.3"/>
<rect x="148.85" y="466.2" width="2.7" height="73.59999999999997" fill="#cdcdcd" stroke="none" stroke-width="1.3"/>
<rect x="152.85" y="465.2" width="2.7" height="74.59999999999997" fill="#cdcdcd" stroke="none" stroke-width="1.3"/>
<rect x="156.75" y="464.4" width="2.7" height="75.39999999999998" fill="#cdcdcd" stroke="none" stroke-width="1.3"/>
<rect x="160.7" y="464.4" width="2.7" height="75.39999999999998" fill="#cdcdcd" stroke="none" stroke-width="1.3"/>
<rect x="164.64999999999998" y="464.4" width="2.7" height="75.39999999999998" fill="#cdcdcd" stroke="none" stroke-width="1.3"/>
<rect x="168.59999999999997" y="464.4" width="2.7" height="75.39999999999998" fill="#cdcdcd" stroke="none" stroke-width="1.3"/>
<rect x="172.54999999999995" y="464.4" width="2.7" height="75.39999999999998" fill="#cdcdcd" stroke="none" stroke-width="1.3"/>
<rect x="176.49999999999994" y="464.4" width="2.7" height="75.39999999999998" fill="#cdcdcd" stroke="none" stroke-width="1.3"/>
<rect x="180.44999999999993" y="464.4" width="2.7" height="75.39999999999998" fill="#cdcdcd" stroke="none" stroke-width="1.3"/>
<rect x="184.39999999999992" y="464.4" width="2.7" height="75.39999999999998" fill="#cdcdcd" stroke="none" stroke-width="1.3"/>
<rect x="188.3499999999999" y="464.4" width="2.7" height="75.39999999999998" fill="#cdcdcd" stroke="none" stroke-width="1.3"/>
<rect x="192.2999999999999" y="464.4" width="2.7" height="75.39999999999998" fill="#cdcdcd" stroke="none" stroke-width="1.3"/>
<rect x="196.2499999999999" y="464.4" width="2.7" height="75.39999999999998" fill="#cdcdcd" stroke="none" stroke-width="1.3"/>
<rect x="200.19999999999987" y="464.4" width="2.7" height="75.39999999999998" fill="#cdcdcd" stroke="none" stroke-width="1.3"/>
<rect x="204.14999999999986" y="464.4" width="2.7" height="75.39999999999998" fill="#cdcdcd" stroke="none" stroke-width="1.3"/>
<rect x="208.09999999999985" y="464.4" width="2.7" height="75.39999999999998" fill="#cdcdcd" stroke="none" stroke-width="1.3"/>
<rect x="212.04999999999984" y="464.4" width="2.7" height="75.39999999999998" fill="#cdcdcd" stroke="none" stroke-width="1.3"/>
<rect x="215.99999999999983" y="464.4" width="2.7" height="75.39999999999998" fill="#cdcdcd" stroke="none" stroke-width="1.3"/>
<rect x="219.94999999999982" y="464.4" width="2.7" height="75.39999999999998" fill="#cdcdcd" stroke="none" stroke-width="1.3"/>
<rect x="223.8999999999998" y="464.4" width="2.7" height="75.39999999999998" fill="#cdcdcd" stroke="none" stroke-width="1.3"/>
<rect x="227.8499999999998" y="464.4" width="2.7" height="75.39999999999998" fill="#cdcdcd" stroke="none" stroke-width="1.3"/>
<rect x="231.79999999999978" y="464.4" width="2.7" height="75.39999999999998" fill="#cdcdcd" stroke="none" stroke-width="1.3"/>
<rect x="235.74999999999977" y="464.4" width="2.7" height="75.39999999999998" fill="#cdcdcd" stroke="none" stroke-width="1.3"/>
<rect x="239.69999999999976" y="464.4" width="2.7" height="75.39999999999998" fill="#cdcdcd" stroke="none" stroke-width="1.3"/>
<rect x="243.64999999999975" y="464.4" width="2.7" height="75.39999999999998" fill="#cdcdcd" stroke="none" stroke-width="1.3"/>
<rect x="92.75" y="520.5" width="2.3" height="19.299999999999955" fill="#2a2a2a" stroke="none" stroke-width="1.3"/>
<rect x="97.05" y="510.1" width="2.3" height="29.699999999999932" fill="#2a2a2a" stroke="none" stroke-width="1.3"/>
<rect x="101.35" y="502.7" width="2.3" height="37.099999999999966" fill="#2a2a2a" stroke="none" stroke-width="1.3"/>
<rect x="105.55" y="496.6" width="2.3" height="43.19999999999993" fill="#2a2a2a" stroke="none" stroke-width="1.3"/>
<rect x="108.85" y="488.5" width="2.3" height="51.299999999999955" fill="#2a2a2a" stroke="none" stroke-width="1.3"/>
<line x1="89.5" y1="439.6" x2="89.5" y2="542.3" stroke="#444" stroke-width="1.4" />
<line x1="88.8" y1="439.6" x2="253.2" y2="439.6" stroke="#444" stroke-width="1.5" />
<line x1="252.5" y1="439.6" x2="252.5" y2="542.3" stroke="#777" stroke-width="1.6" />
<line x1="89.5" y1="542.3" x2="252.5" y2="542.3" stroke="#888" stroke-width="1.8" />
<line x1="129.7" y1="541.9" x2="129.7" y2="545.2" stroke="#333" stroke-width="1.3" />
<line x1="172" y1="541.9" x2="172" y2="545.2" stroke="#333" stroke-width="1.3" />
<line x1="207.9" y1="541.9" x2="207.9" y2="545.2" stroke="#333" stroke-width="1.3" />
<line x1="245.6" y1="541.9" x2="245.6" y2="545.2" stroke="#333" stroke-width="1.3" />
<line x1="84.5" y1="451.4" x2="89.6" y2="451.4" stroke="#333" stroke-width="1.3" />
<line x1="84.5" y1="476" x2="89.6" y2="476" stroke="#333" stroke-width="1.3" />
<line x1="84.5" y1="496.7" x2="89.6" y2="496.7" stroke="#333" stroke-width="1.3" />
<line x1="84.5" y1="521.3" x2="89.6" y2="521.3" stroke="#333" stroke-width="1.3" />
<line x1="84.5" y1="541.9" x2="89.6" y2="541.9" stroke="#333" stroke-width="1.3" />
<text x="92.1" y="562.7" font-size="15.5" fill="#333" text-anchor="middle" stroke="#333" stroke-width="0.3" textLength="6.8" lengthAdjust="spacingAndGlyphs" >0</text>
<text x="130.6" y="562.7" font-size="15.5" fill="#333" text-anchor="middle" stroke="#333" stroke-width="0.3" textLength="14" lengthAdjust="spacingAndGlyphs" >20</text>
<text x="171.7" y="562.7" font-size="15.5" fill="#333" text-anchor="middle" stroke="#333" stroke-width="0.3" textLength="15" lengthAdjust="spacingAndGlyphs" >40</text>
<text x="209.5" y="562.7" font-size="15.5" fill="#333" text-anchor="middle" stroke="#333" stroke-width="0.3" textLength="14.6" lengthAdjust="spacingAndGlyphs" >60</text>
<text x="246.9" y="562.7" font-size="15.5" fill="#333" text-anchor="middle" stroke="#333" stroke-width="0.3" textLength="14.4" lengthAdjust="spacingAndGlyphs" >80</text>
<text transform="translate(78.3,453) rotate(-90)" x="0" y="0" font-size="15.5" fill="#333" text-anchor="middle" stroke="#333" stroke-width="0.3" textLength="15.2" lengthAdjust="spacingAndGlyphs" >80</text>
<text transform="translate(78.3,474) rotate(-90)" x="0" y="0" font-size="15.5" fill="#333" text-anchor="middle" stroke="#333" stroke-width="0.3" textLength="14.5" lengthAdjust="spacingAndGlyphs" >60</text>
<text transform="translate(78.3,493) rotate(-90)" x="0" y="0" font-size="15.5" fill="#333" text-anchor="middle" stroke="#333" stroke-width="0.3" textLength="14.5" lengthAdjust="spacingAndGlyphs" >40</text>
<text transform="translate(78.3,516) rotate(-90)" x="0" y="0" font-size="15.5" fill="#333" text-anchor="middle" stroke="#333" stroke-width="0.3" textLength="15" lengthAdjust="spacingAndGlyphs" >20</text>
<text transform="translate(78.3,537.6) rotate(-90)" x="0" y="0" font-size="15.5" fill="#333" text-anchor="middle" stroke="#333" stroke-width="0.3" textLength="7.5" lengthAdjust="spacingAndGlyphs" >0</text>
<text transform="translate(57.9,496.2) rotate(-90)" x="0" y="0" font-size="12.8" fill="#4a4a4a" text-anchor="middle" stroke="#4a4a4a" stroke-width="0.3" textLength="112" lengthAdjust="spacingAndGlyphs" >Cumulated variance (%)</text>
<text x="139.3" y="455" font-size="16.2" fill="#333" text-anchor="start" stroke="#333" stroke-width="0.3" textLength="99.5" lengthAdjust="spacingAndGlyphs" >PCA eigenvalues</text>
<rect x="51.9" y="689.5" width="167.8" height="121.6" fill="#fff" stroke="#444" stroke-width="1.4"/>
<rect x="62.2" y="721" width="71.9" height="88.8" fill="#000" stroke="none" stroke-width="1.3"/>
<rect x="146.3" y="805.1" width="70.8" height="4.7" fill="#000" stroke="none" stroke-width="1.3"/>
<text x="105.6" y="711.6" font-size="15.5" fill="#333" text-anchor="start" stroke="#333" stroke-width="0.3" textLength="91.2" lengthAdjust="spacingAndGlyphs" >DA eigenvalues</text>
<text x="350" y="843.5" font-size="18" fill="#333" text-anchor="start" stroke="#333" stroke-width="0.3" textLength="101.8" lengthAdjust="spacingAndGlyphs" >Axis 1 (23.9%)</text>
<text transform="translate(16.1,687) rotate(-90)" x="0" y="0" font-size="18.8" fill="#333" text-anchor="start" stroke="#333" stroke-width="0.3" textLength="101" lengthAdjust="spacingAndGlyphs" >Axis 2 (17.7%)</text>
</svg>
</body></html>
